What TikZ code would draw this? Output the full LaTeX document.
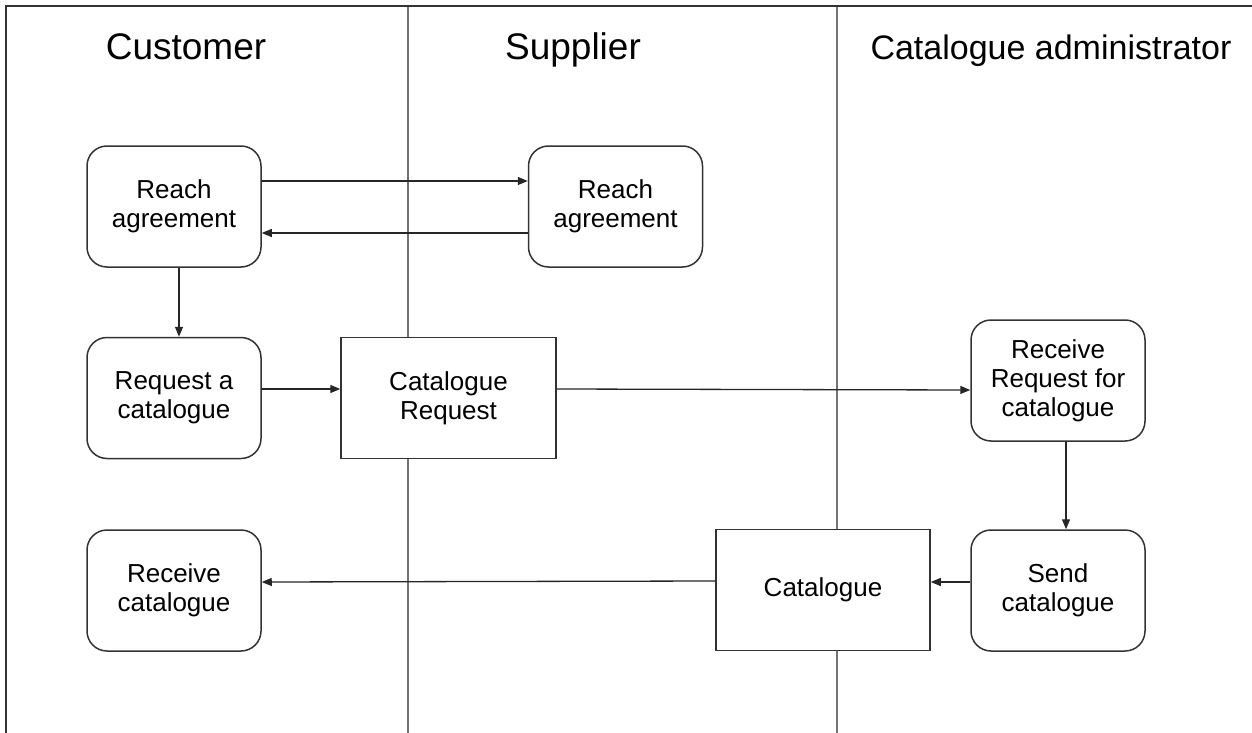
\documentclass[tikz,border=0pt]{standalone}
\usepackage{fontspec}
\setmainfont{Liberation Sans}
\usetikzlibrary{arrows.meta}
\tikzset{
  frameline/.style={line width=1.6pt, draw=black!80},
  laneline/.style={line width=1.8pt, draw=black!55},
  lanetitle/.style={anchor=base, font=\fontsize{37}{44}\selectfont},
  activity/.style={draw=black!80, line width=1.5pt, fill=white, rounded corners=20pt,
    minimum width=174pt, minimum height=121pt, align=center, inner sep=0pt,
    font=\fontsize{26}{29}\selectfont},
  artefact/.style={draw=black!80, line width=1.5pt, fill=white,
    minimum width=215pt, minimum height=121pt, align=center, inner sep=0pt,
    font=\fontsize{26}{29}\selectfont},
  flow/.style={draw=black!85, line width=1.3pt, -{Triangle[length=10pt,width=8pt]}}
}
\begin{document}
\begin{tikzpicture}[x=1pt, y=-1pt]
\useasboundingbox (0,0) rectangle (1252,733);
\fill[white] (0,0) rectangle (1252,733);

% swimlane frame and separators
\coordinate (tl) at (6,6);
\coordinate (tr) at (1252,6);
\coordinate (bl) at (6,733);
\coordinate (l1top) at (408,6);
\coordinate (l1bot) at (408,733);
\coordinate (l2top) at (837,6);
\coordinate (l2bot) at (837,733);
\draw[laneline] (l1top) -- (l1bot);
\draw[laneline] (l2top) -- (l2bot);
\draw[frameline] (bl) -- (tl) -- (tr);

% lane titles
\node[lanetitle] (tcust) at (186,60) {Customer};
\node[lanetitle] (tsupp) at (573,60) {Supplier};
\node[lanetitle, font=\fontsize{34}{40}\selectfont] (tadmin) at (1051,60) {Catalogue administrator};

% activities and exchanged documents
\node[activity] (cRA) at (174,206.5) {Reach\\agreement};
\node[activity] (sRA) at (615.5,206.5) {Reach\\agreement};
\node[activity] (cReq) at (174,398) {Request a\\catalogue};
\node[artefact] (catReq) at (448.5,398) {Catalogue\\Request};
\node[activity] (recvReq) at (1058,380.5) {Receive\\Request for\\catalogue};
\node[activity] (send) at (1058,590.5) {Send\\catalogue};
\node[artefact, minimum width=214pt] (cat) at (823,590) {Catalogue};
\node[activity] (recvCat) at (174,590.5) {Receive\\catalogue};

% message flows
\draw[flow] (cRA.east |- 0,181) -- (sRA.west |- 0,181);
\draw[flow] (sRA.west |- 0,233) -- (cRA.east |- 0,233);
\draw[flow] (cRA.south -| 179,0) -- (cReq.north -| 179,0);
\draw[flow] (cReq.east |- 0,389) -- (catReq.west |- 0,389);
\draw[flow] (catReq.east |- 0,389) -- (recvReq.west |- 0,390);
\draw[flow] (recvReq.south -| 1066,0) -- (send.north -| 1066,0);
\draw[flow] (send.west |- 0,582) -- (cat.east |- 0,582);
\draw[flow] (cat.west |- 0,581) -- (recvCat.east |- 0,582);
\end{tikzpicture}
\end{document}
